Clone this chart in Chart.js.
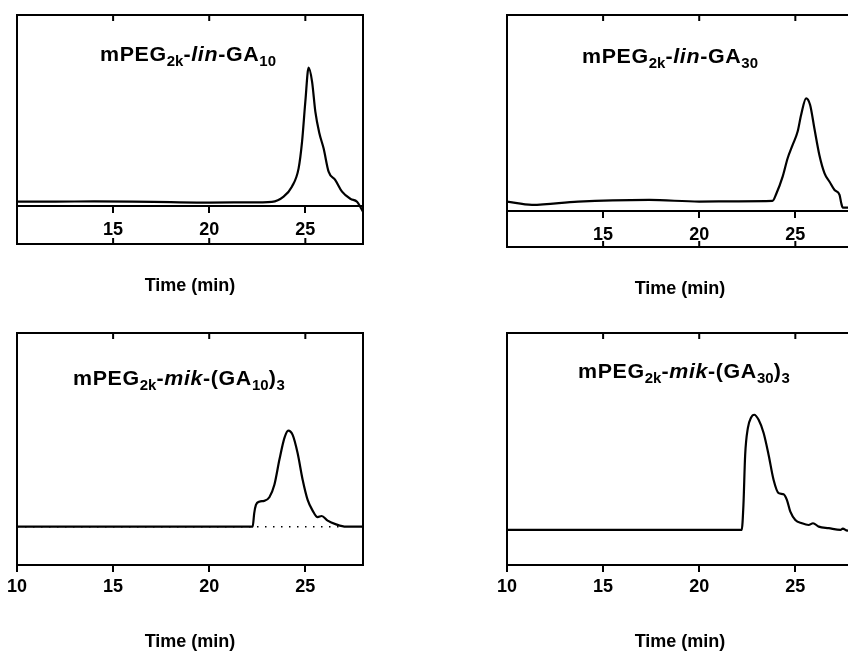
<!DOCTYPE html>
<html>
<head>
<meta charset="utf-8">
<script src="https://cdn.jsdelivr.net/npm/chart.js@4.4.1/dist/chart.umd.min.js"></script>
<style>
  html, body { margin:0; padding:0; background:#fff; width:848px; height:654px; overflow:hidden; position:relative; }
  canvas { position:absolute; }
  .ttl { position:absolute; font:bold 20px 'Liberation Sans', Arial, sans-serif; line-height:20px; white-space:nowrap; color:#000; letter-spacing:0.6px; transform:scaleX(1.07); transform-origin:left top; }
  .ttl sub { font-size:14px; line-height:0; vertical-align:-5px; letter-spacing:0; }
</style>
</head>
<body>
<canvas id="c1" width="380" height="305" style="left:0;top:0"></canvas>
<canvas id="c2" width="380" height="305" style="left:490px;top:0"></canvas>
<canvas id="c3" width="380" height="336" style="left:0;top:318px"></canvas>
<canvas id="c4" width="380" height="336" style="left:490px;top:318px"></canvas>

<div class="ttl" style="left:100px;top:44px">mPEG<sub>2k</sub>-<i>lin</i>-GA<sub>10</sub></div>
<div class="ttl" style="left:582px;top:46px">mPEG<sub>2k</sub>-<i>lin</i>-GA<sub>30</sub></div>
<div class="ttl" style="left:73px;top:368px">mPEG<sub>2k</sub>-<i>mik</i>-(GA<sub>10</sub>)<sub>3</sub></div>
<div class="ttl" style="left:578px;top:361px">mPEG<sub>2k</sub>-<i>mik</i>-(GA<sub>30</sub>)<sub>3</sub></div>

<script>
// GPC traces, time in min, signal in arbitrary units (baseline 0, frame top 100)
const timeLin10 = [10, 12, 14, 16, 18, 20, 22, 23.26, 23.87, 24.30, 24.65, 24.83, 25.0, 25.17, 25.35, 25.52, 25.73, 25.95, 26.21, 26.56, 26.91, 27.35, 27.69, 27.90, 28];
const signalLin10 = [2.3, 2.3, 2.4, 2.3, 2.0, 1.8, 1.9, 2.2, 4.9, 10.1, 19.7, 33.7, 54.6, 72.4, 65.1, 49.4, 38.1, 30.2, 18.0, 13.6, 7.5, 3.7, 2.2, -1.2, -3];

const timeLin30 = [10, 11.3, 13.7, 17.4, 20, 22, 23.81, 24.02, 24.34, 24.60, 24.86, 25.12, 25.30, 25.56, 25.77, 25.99, 26.25, 26.52, 26.78, 27.04, 27.30, 27.39, 27.47, 27.65, 28];
const signalLin30 = [4.8, 3.1, 4.8, 5.6, 4.8, 4.9, 5.1, 9.0, 17.5, 26.9, 33.7, 40.5, 49.0, 57.5, 54.1, 42.2, 28.6, 19.2, 14.9, 10.7, 8.2, 3.9, 1.7, 1.7, 1.7];

const timeMik10 = [10, 22.26, 22.34, 22.43, 22.60, 22.86, 23.13, 23.39, 23.65, 23.91, 24.11, 24.34, 24.60, 24.86, 25.12, 25.38, 25.64, 25.85, 26.16, 26.60, 27.12, 28];
const signalMik10 = [0, 0, 6.9, 11.2, 12.9, 13.3, 15.2, 21.6, 34.5, 45.7, 49.6, 47.4, 37.9, 24.2, 13.8, 8.3, 4.9, 5.5, 3.1, 1.2, 0, 0];
const dotTime = [10, 27];
const dotSignal = [0, 0];

const timeMik30 = [10, 22.21, 22.30, 22.39, 22.53, 22.70, 22.86, 23.09, 23.35, 23.61, 23.87, 24.13, 24.39, 24.56, 24.74, 25.0, 25.34, 25.69, 25.92, 26.22, 26.74, 27.35, 27.47, 27.70, 28];
const signalMik30 = [0, 0, 12.7, 38.1, 51.7, 57.1, 58.5, 55.9, 49.2, 38.1, 25.4, 18.7, 18.1, 15.3, 9.3, 5.1, 3.4, 2.5, 3.4, 1.7, 0.9, 0, 0.7, -0.3, 0];

const topTicks = [15, 20, 25];
const bottomTicks = [10, 15, 20, 25];
const axisTitle = 'Time (min)';

Chart.defaults.font.family = "'Liberation Sans', Arial, sans-serif";
Chart.defaults.color = '#000';

const boldFont = size => ({ size: size, weight: 'bold' });

// frame box + inward tick marks
function framePlugin(ticks, ticksOnBottom) {
  return {
    id: 'frame',
    afterDraw(chart) {
      const { ctx, chartArea: a } = chart;
      const x = chart.scales.x;
      ctx.save();
      ctx.strokeStyle = '#000';
      ctx.lineWidth = 2;
      ctx.strokeRect(a.left, a.top, a.right - a.left, a.bottom - a.top);
      ctx.beginPath();
      ticks.forEach(v => {
        const px = x.getPixelForValue(v);
        ctx.moveTo(px, a.top);
        ctx.lineTo(px, a.top + 6);
        if (ticksOnBottom) {
          ctx.moveTo(px, a.bottom);
          ctx.lineTo(px, a.bottom - 6);
        }
      });
      ctx.stroke();
      ctx.restore();
    }
  };
}

function makePanel(id, xs, ys, opt) {
  const datasets = [{
    data: xs.map((x, i) => ({ x: x, y: ys[i] })),
    borderColor: '#000',
    borderWidth: 2.2,
    pointRadius: 0,
    cubicInterpolationMode: 'monotone',
    fill: false
  }];
  if (opt.dots) {
    datasets.push({
      data: opt.dots[0].map((x, i) => ({ x: x, y: opt.dots[1][i] })),
      borderColor: '#000',
      borderWidth: 1.5,
      borderDash: [1.5, 6.5],
      pointRadius: 0,
      fill: false
    });
  }

  const scales = {
    x: {
      type: 'linear', min: 10, max: 28,
      position: opt.zeroAxis ? { y: 0 } : 'bottom',
      afterBuildTicks: s => { s.ticks = opt.labels.map(v => ({ value: v })); },
      ticks: { font: boldFont(18), padding: opt.zeroAxis ? 7 : 4, maxRotation: 0 },
      grid: { drawOnChartArea: false, drawTicks: true, tickLength: opt.zeroAxis ? 6 : 7, lineWidth: 2, color: '#000' },
      border: { display: !!opt.zeroAxis, width: 2, color: '#000' },
      title: opt.zeroAxis ? { display: false } : { display: true, text: axisTitle, font: boldFont(18), padding: opt.titlePad }
    },
    y: { display: false, min: opt.yMin, max: 100 }
  };
  if (opt.zeroAxis) {
    scales.xt = {
      type: 'linear', min: 10, max: 28, position: 'bottom',
      ticks: { display: false },
      grid: { display: false, drawTicks: false },
      border: { display: false },
      title: { display: true, text: axisTitle, font: boldFont(18), padding: opt.titlePad }
    };
  }

  new Chart(document.getElementById(id), {
    type: 'line',
    data: { datasets: datasets },
    options: {
      responsive: false,
      animation: false,
      events: [],
      layout: { padding: { left: 17, right: 17, top: 15, bottom: 0 } },
      plugins: { legend: { display: false }, tooltip: { enabled: false } },
      scales: scales
    },
    plugins: [framePlugin(topTicks, !!opt.zeroAxis)]
  });
}

makePanel('c1', timeLin10, signalLin10, { zeroAxis: true, labels: topTicks, yMin: -19.9, titlePad: { top: 31.2, bottom: 8.2 } });
makePanel('c2', timeLin30, signalLin30, { zeroAxis: true, labels: topTicks, yMin: -18.4, titlePad: { top: 31.2, bottom: 5.2 } });
makePanel('c3', timeMik10, signalMik10, { labels: bottomTicks, yMin: -19.8, dots: [dotTime, dotSignal], titlePad: { top: 29.6, bottom: 1.2 } });
makePanel('c4', timeMik30, signalMik30, { labels: bottomTicks, yMin: -17.8, titlePad: { top: 29.6, bottom: 1.2 } });
</script>
</body>
</html>
